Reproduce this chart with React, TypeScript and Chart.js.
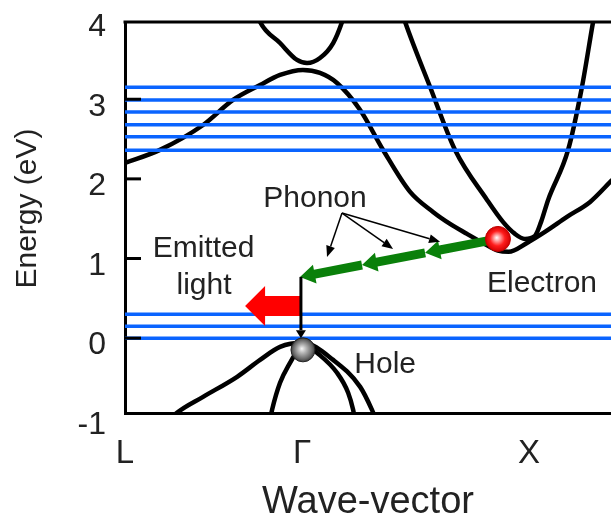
import { useEffect, useRef } from 'react';
import { Chart, registerables } from 'chart.js';

Chart.register(...registerables);

const FONT = '"Liberation Sans", Arial, Helvetica, sans-serif';
const INK = '#222';
const LEVEL_BLUE = '#0a64ff';

// Axes: energy ticks (eV) and high-symmetry points along the wave-vector axis
const energyTicks = [-1, 0, 1, 2, 3, 4];
const energyRange = [-0.94, 3.97];
const kRange = [-0.78, 1.361];
const kPointLabels = ['L', 'Γ', 'X'];
const kPointValues = [-0.78, 0, 1];

// Lowest conduction band: L -> Γ -> minimum near X -> beyond X
const cbLowK = [-0.78, -0.626, -0.436, -0.304, -0.185, -0.097, 0.004, 0.079, 0.154, 0.256, 0.357, 0.476, 0.577, 0.652, 0.727, 0.797, 0.863, 0.91, 0.991, 1.07, 1.167, 1.269, 1.366];
const cbLowE = [2.2, 2.364, 2.677, 2.991, 3.179, 3.305, 3.368, 3.33, 3.204, 2.865, 2.363, 1.836, 1.585, 1.435, 1.309, 1.196, 1.1, 1.085, 1.196, 1.334, 1.523, 1.711, 1.987];

// Narrow conduction band touching down at X
const cbNarrowK = [0.423, 0.454, 0.564, 0.674, 0.815, 0.885, 0.938, 0.982, 1.026, 1.053, 1.084, 1.172, 1.233, 1.282, 1.3];
const cbNarrowE = [4.246, 3.97, 3.154, 2.363, 1.736, 1.46, 1.309, 1.246, 1.284, 1.46, 1.736, 2.363, 3.154, 3.97, 4.246];

// Upper conduction band around Γ
const cbUpperK = [-0.207, -0.185, -0.097, -0.022, 0.022, 0.079, 0.137, 0.176, 0.194];
const cbUpperE = [4.146, 3.97, 3.706, 3.493, 3.455, 3.518, 3.706, 3.97, 4.146];

// Valence bands meeting at the Γ maximum
const vbHeavyK = [-0.581, -0.551, -0.436, -0.286, -0.185, -0.097, 0.004, 0.137, 0.256, 0.308, 0.326];
const vbHeavyE = [-1.026, -0.938, -0.737, -0.485, -0.273, -0.109, -0.059, -0.273, -0.612, -0.9, -1.026];
const vbLightK = [-0.141, -0.132, -0.097, -0.053, -0.018, 0.004, 0.066, 0.154, 0.203, 0.225, 0.233];
const vbLightE = [-1.026, -0.9, -0.561, -0.31, -0.147, -0.059, -0.184, -0.435, -0.686, -0.9, -1.026];

// Discrete energy levels (eV)
const upperLevels = [3.15, 2.99, 2.84, 2.68, 2.53, 2.36];
const lowerLevels = [0.3, 0.15, 0.0];

// Carriers and transitions
const electronK = 0.863;
const electronE = 1.246;
const holeK = 0.004;
const holeE = -0.147;
const phononK = [0.863, 0.542, 0.264, -0.009];
const phononE = [1.246, 1.071, 0.919, 0.769];
const pointerFromK = 0.176;
const pointerFromE = 1.571;
const pointerToK = [0.11, 0.401, 0.608];
const pointerToE = [1.02, 1.121, 1.209];
const dropK = -0.005;
const dropE = [0.769, 0.0];
const emissionK = [-0.009, -0.251];
const emissionE = 0.405;

// Annotation text (anchored at its baseline centre)
const noteTexts = ['Phonon', 'Emitted', 'light', 'Electron', 'Hole'];
const noteK = [0.057, -0.434, -0.432, 1.057, 0.366];
const noteE = [1.646, 1.02, 0.556, 0.581, -0.436];

const toPoints = (ks: number[], es: number[]) => ks.map((k, i) => ({ x: k, y: es[i] }));

function blockArrow(ctx: CanvasRenderingContext2D, x0: number, y0: number, x1: number, y1: number,
  bodyHalf: number, headHalf: number, headLen: number, color: string) {
  const dx = x1 - x0;
  const dy = y1 - y0;
  const len = Math.hypot(dx, dy);
  const ux = dx / len;
  const uy = dy / len;
  const nx = -uy;
  const ny = ux;
  const bx = x1 - ux * headLen;
  const by = y1 - uy * headLen;
  ctx.beginPath();
  ctx.moveTo(x0 + nx * bodyHalf, y0 + ny * bodyHalf);
  ctx.lineTo(bx + nx * bodyHalf, by + ny * bodyHalf);
  ctx.lineTo(bx + nx * headHalf, by + ny * headHalf);
  ctx.lineTo(x1, y1);
  ctx.lineTo(bx - nx * headHalf, by - ny * headHalf);
  ctx.lineTo(bx - nx * bodyHalf, by - ny * bodyHalf);
  ctx.lineTo(x0 - nx * bodyHalf, y0 - ny * bodyHalf);
  ctx.closePath();
  ctx.fillStyle = color;
  ctx.fill();
}

function lineArrow(ctx: CanvasRenderingContext2D, x0: number, y0: number, x1: number, y1: number,
  width: number, headHalf: number, headLen: number) {
  const dx = x1 - x0;
  const dy = y1 - y0;
  const len = Math.hypot(dx, dy);
  const ux = dx / len;
  const uy = dy / len;
  const bx = x1 - ux * headLen;
  const by = y1 - uy * headLen;
  ctx.strokeStyle = '#000';
  ctx.fillStyle = '#000';
  ctx.lineWidth = width;
  ctx.beginPath();
  ctx.moveTo(x0, y0);
  ctx.lineTo(bx, by);
  ctx.stroke();
  ctx.beginPath();
  ctx.moveTo(x1, y1);
  ctx.lineTo(bx - uy * headHalf, by + ux * headHalf);
  ctx.lineTo(bx + uy * headHalf, by - ux * headHalf);
  ctx.closePath();
  ctx.fill();
}

function sphere(ctx: CanvasRenderingContext2D, cx: number, cy: number, r: number, stops: [number, string][], rim: string) {
  const g = ctx.createRadialGradient(cx - r * 0.1, cy - r * 0.1, 0, cx, cy, r);
  stops.forEach(([o, c]) => g.addColorStop(o, c));
  ctx.beginPath();
  ctx.arc(cx, cy, r, 0, Math.PI * 2);
  ctx.fillStyle = g;
  ctx.fill();
  ctx.lineWidth = 1;
  ctx.strokeStyle = rim;
  ctx.stroke();
}

const bandOverlay = {
  id: 'bandOverlay',
  afterDatasetsDraw(chart: Chart) {
    const { ctx, chartArea: a } = chart;
    const xs = chart.scales.x;
    const ys = chart.scales.y;
    const px = (k: number) => xs.getPixelForValue(k);
    const py = (e: number) => ys.getPixelForValue(e);
    ctx.save();

    // inward tick marks and the top edge of the frame
    ctx.strokeStyle = '#000';
    ctx.lineWidth = 3;
    energyTicks.forEach((v) => {
      const y = py(v);
      if (y > a.top + 5 && y < a.bottom - 5) {
        ctx.beginPath();
        ctx.moveTo(a.left, y);
        ctx.lineTo(a.left + 16, y);
        ctx.stroke();
      }
    });
    ctx.beginPath();
    ctx.moveTo(a.left - 1.5, a.top);
    ctx.lineTo(a.right, a.top);
    ctx.stroke();

    // emitted light
    blockArrow(ctx, px(emissionK[0]), py(emissionE), px(emissionK[1]), py(emissionE), 10, 20, 20, '#ff0000');

    // phonon-assisted relaxation steps
    for (let i = 0; i < phononK.length - 1; i++) {
      blockArrow(ctx, px(phononK[i]), py(phononE[i]), px(phononK[i + 1]), py(phononE[i + 1]), 4.5, 9.5, 15, '#0a800a');
    }

    // recombination drop to the hole
    lineArrow(ctx, px(dropK), py(dropE[0]), px(dropK), py(dropE[1]), 3, 5, 8);

    // pointers from the phonon label
    for (let i = 0; i < pointerToK.length; i++) {
      lineArrow(ctx, px(pointerFromK), py(pointerFromE), px(pointerToK[i]), py(pointerToE[i]), 1.5, 4.5, 11);
    }

    // carriers
    sphere(ctx, px(electronK), py(electronE), 12.5,
      [[0, '#ffffff'], [0.25, '#ffa0a0'], [0.6, '#ff1c1c'], [1, '#d00000']], '#c00000');
    sphere(ctx, px(holeK), py(holeE), 12,
      [[0, '#f6f6f6'], [0.35, '#b4b4b4'], [0.8, '#666666'], [1, '#3a3a3a']], '#222');

    // annotations
    ctx.fillStyle = INK;
    ctx.font = `30px ${FONT}`;
    ctx.textAlign = 'center';
    ctx.textBaseline = 'alphabetic';
    noteTexts.forEach((t, i) => ctx.fillText(t, px(noteK[i]), py(noteE[i])));

    // energy axis title
    ctx.translate(27.5, (a.top + a.bottom) / 2 - 9);
    ctx.rotate(-Math.PI / 2);
    ctx.textBaseline = 'middle';
    ctx.fillText('Energy (eV)', 0, 0);
    ctx.restore();
  },
};

export default function App() {
  const ref = useRef<HTMLCanvasElement>(null);

  useEffect(() => {
    const levelLine = (e: number) => [{ x: kRange[0], y: e }, { x: kRange[1] + 0.05, y: e }];
    const bands: [number[], number[]][] = [
      [cbLowK, cbLowE],
      [cbNarrowK, cbNarrowE],
      [cbUpperK, cbUpperE],
      [vbHeavyK, vbHeavyE],
      [vbLightK, vbLightE],
    ];
    const chart = new Chart(ref.current as HTMLCanvasElement, {
      type: 'line',
      data: {
        datasets: [
          ...[...upperLevels, ...lowerLevels].map((e) => ({
            data: levelLine(e),
            borderColor: LEVEL_BLUE,
            borderWidth: 3.5,
            pointRadius: 0,
            tension: 0,
            fill: false,
          })),
          ...bands.map(([ks, es]) => ({
            data: toPoints(ks, es),
            borderColor: '#000',
            borderWidth: 4.5,
            pointRadius: 0,
            cubicInterpolationMode: 'monotone' as const,
            fill: false,
          })),
        ],
      },
      options: {
        animation: false,
        responsive: false,
        events: [],
        layout: { padding: { top: 22, right: 0, bottom: 0, left: 0 } },
        plugins: { legend: { display: false }, tooltip: { enabled: false } },
        scales: {
          x: {
            type: 'linear',
            min: kRange[0],
            max: kRange[1],
            z: 1,
            grid: { display: false, drawTicks: false },
            border: { display: true, color: '#000', width: 3 },
            afterBuildTicks: (s: any) => {
              s.ticks = kPointValues.map((v) => ({ value: v }));
            },
            ticks: {
              autoSkip: false,
              maxRotation: 0,
              padding: 21,
              color: INK,
              font: { family: FONT, size: 33 },
              callback: (_v: any, i: number) => kPointLabels[i],
            },
            title: {
              display: true,
              text: 'Wave-vector',
              color: INK,
              font: { family: FONT, size: 38 },
              padding: { top: 0, bottom: -6 },
            },
            afterFit: (s: any) => {
              s.height = 106;
              s.paddingLeft = 0;
              s.paddingRight = 0;
              s.paddingTop = 0;
              s.paddingBottom = 0;
            },
          },
          y: {
            type: 'linear',
            min: energyRange[0],
            max: energyRange[1],
            z: 1,
            grid: { display: false, drawTicks: false },
            border: { display: true, color: '#000', width: 3 },
            afterBuildTicks: (s: any) => {
              s.ticks = energyTicks.map((v) => ({ value: v }));
            },
            ticks: {
              autoSkip: false,
              padding: 19,
              labelOffset: 7.5,
              color: INK,
              font: { family: FONT, size: 32 },
              callback: (v: any) => String(v),
            },
            afterFit: (s: any) => {
              s.width = 125;
              s.paddingLeft = 0;
              s.paddingRight = 0;
              s.paddingTop = 0;
              s.paddingBottom = 0;
            },
          },
        },
      },
      plugins: [bandOverlay],
    } as any);
    return () => chart.destroy();
  }, []);

  return (
    <div style={{ position: 'fixed', left: 0, top: 0, width: 611, height: 519, background: '#fff' }}>
      <canvas ref={ref} width={611} height={519} style={{ display: 'block', width: 611, height: 519 }} />
    </div>
  );
}
